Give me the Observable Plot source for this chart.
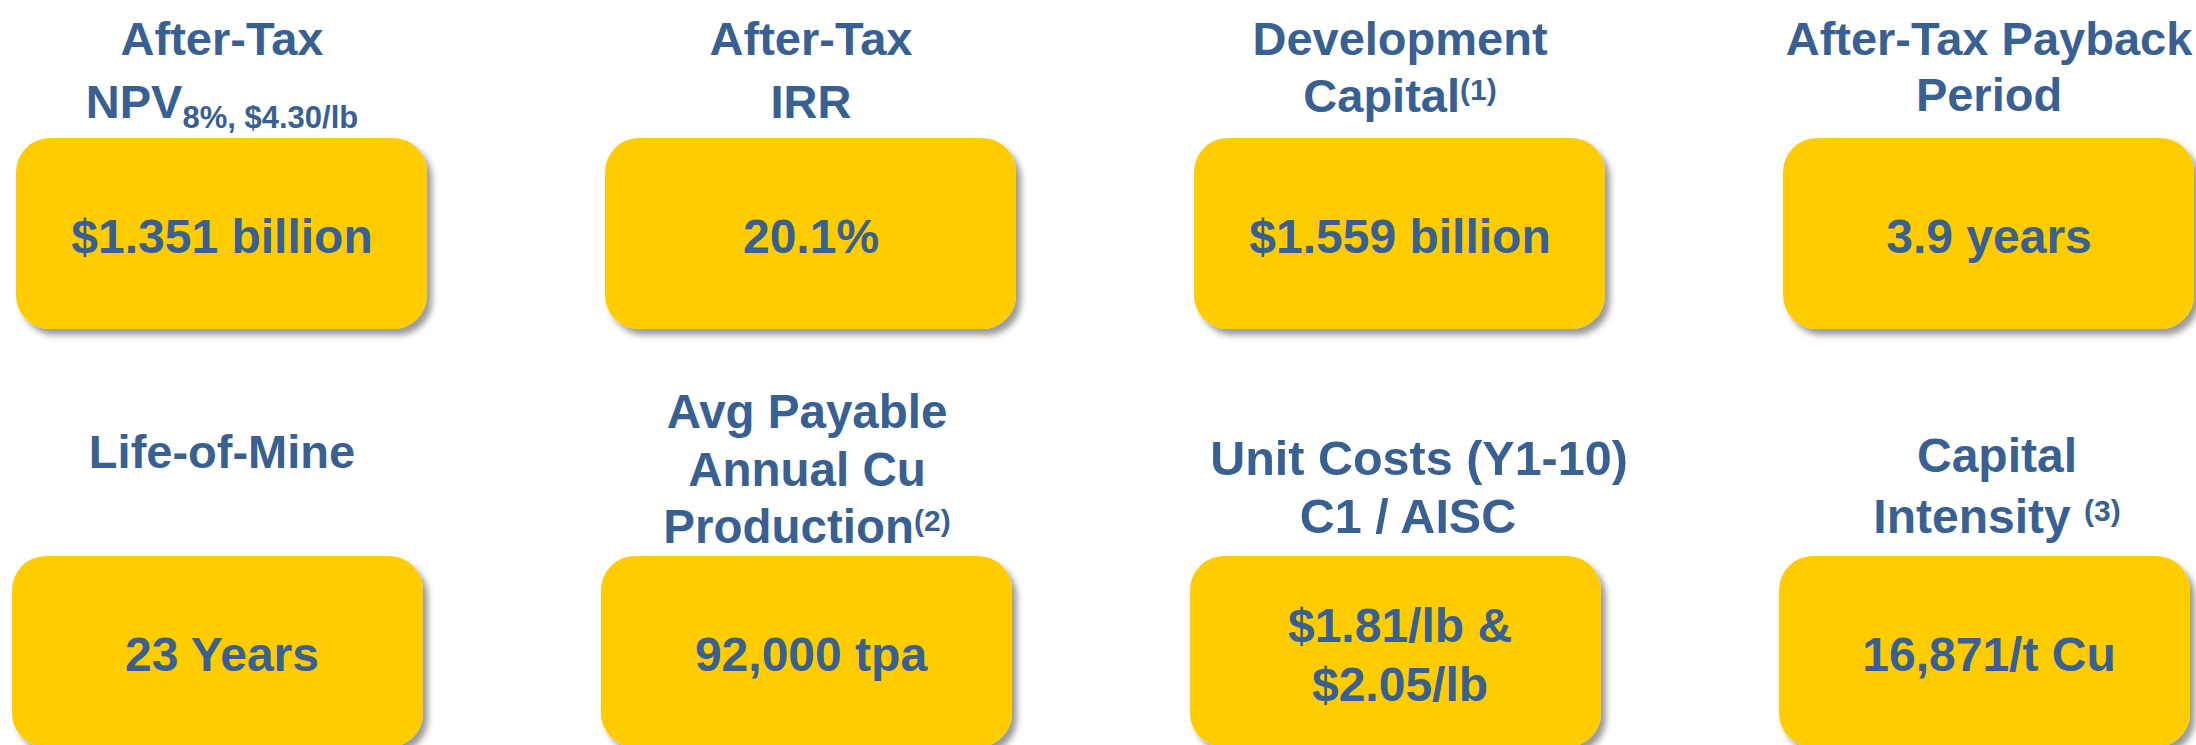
<!DOCTYPE html>
<html>
<head>
<meta charset="utf-8">
<script src="https://cdn.jsdelivr.net/npm/d3@7"></script>
<script src="https://cdn.jsdelivr.net/npm/@observablehq/plot@0.6"></script>
<style>
  html, body { margin: 0; padding: 0; background: #ffffff; }
  #chart svg { display: block; }
</style>
</head>
<body>
<div id="chart"></div>
<script>
// ---------- data ----------
const metrics = [
  "After-Tax NPV", "After-Tax IRR", "Development Capital", "After-Tax Payback Period",
  "Life-of-Mine", "Avg Payable Annual Cu Production", "Unit Costs (Y1-10) C1 / AISC", "Capital Intensity"
];
const titleLines = [
  ["After-Tax", "NPV_{8%, $4.30/lb}"],
  ["After-Tax", "IRR"],
  ["Development", "Capital^{(1)}"],
  ["After-Tax Payback", "Period"],
  ["Life-of-Mine"],
  ["Avg Payable", "Annual Cu", "Production^{(2)}"],
  ["Unit Costs (Y1-10)", "C1 / AISC"],
  ["Capital", "Intensity ^{(3)}"]
];
const valueLines = [
  ["$1.351 billion"], ["20.1%"], ["$1.559 billion"], ["3.9 years"],
  ["23 Years"], ["92,000 tpa"], ["$1.81/lb &", "$2.05/lb"], ["16,871/t Cu"]
];
const columns = [0, 1, 2, 3, 0, 1, 2, 3];
const rows = [0, 0, 0, 0, 1, 1, 1, 1];

// ---------- layout & style ----------
const W = 2196, H = 745;
const cardTop = [138, 556];
const cardH = 191;
const titleBase = [[-84, -21], [-84, -21], [-84, -27], [-84, -28], [-89], [-129, -71, -14], [-82, -24], [-85, -24]];
const titleDx = [[0, 0], [0, 0], [0, 0], [0, 0], [0], [-4, -4, -4], [19, 8], [8, 8]];
const titleSize = [47, 47, 47, 47, 47, 47.5, 48.5, 48];
const valueBase = {1: [114], 2: [85, 144]};
const BLUE = "#386092";
const GOLD = "#FFCC00";
const FONT = "'Liberation Sans', Arial, Helvetica, sans-serif";

const cards = metrics.map((m, i) => ({
  metric: m, col: columns[i], row: rows[i],
  y1: cardTop[rows[i]], y2: cardTop[rows[i]] + cardH
}));

const titleData = metrics.flatMap((m, i) =>
  titleLines[i].map((t, j) => ({
    card: i, col: columns[i], text: t, y: cardTop[rows[i]] + titleBase[i][j],
    dx: titleDx[i][j], size: titleSize[i]
  }))
);
const valueData = metrics.flatMap((m, i) =>
  valueLines[i].map((t, j) => ({col: columns[i], text: t, y: cardTop[rows[i]] + valueBase[valueLines[i].length][j]}))
);

const plot = Plot.plot({
  width: W,
  height: H,
  margin: 0,
  x: {type: "band", domain: [0, 1, 2, 3], range: [15, 2195], paddingInner: 0.303, paddingOuter: 0, axis: null},
  y: {type: "linear", domain: [0, H], range: [0, H], axis: null},
  style: {background: "#ffffff", overflow: "visible"},
  marks: [
    Plot.barY(cards.filter(d => d.row === 0), {x: "col", y1: "y1", y2: "y2", fill: GOLD, rx: 34, ariaLabel: "cards"}),
    Plot.barY(cards.filter(d => d.row === 1), {x: "col", y1: "y1", y2: "y2", fill: GOLD, rx: 34, dx: -4, ariaLabel: "cards"}),
    ...titleData.map(line => Plot.text([line], {
      x: "col", y: "y", text: "text", lineAnchor: "bottom", textAnchor: "middle", dx: line.dx,
      fontSize: line.size, fontWeight: "bold", fontFamily: FONT, fill: BLUE
    })),
    Plot.text(valueData, {
      x: "col", y: "y", text: "text", lineAnchor: "bottom", textAnchor: "middle",
      fontSize: 48, fontWeight: "bold", fontFamily: FONT, fill: BLUE
    })
  ]
});

// drop shadow on cards
const NS = "http://www.w3.org/2000/svg";
const defs = document.createElementNS(NS, "defs");
const filter = document.createElementNS(NS, "filter");
filter.setAttribute("id", "cardShadow");
filter.setAttribute("x", "-10%"); filter.setAttribute("y", "-10%");
filter.setAttribute("width", "125%"); filter.setAttribute("height", "130%");
const fe = document.createElementNS(NS, "feDropShadow");
fe.setAttribute("dx", "5"); fe.setAttribute("dy", "6"); fe.setAttribute("stdDeviation", "3");
fe.setAttribute("flood-color", "#000000"); fe.setAttribute("flood-opacity", "0.4");
filter.appendChild(fe); defs.appendChild(filter);
plot.insertBefore(defs, plot.firstChild);
plot.querySelectorAll("rect").forEach(r => {
  const f = (r.getAttribute("fill") || r.parentNode.getAttribute("fill") || "").toUpperCase();
  if (f === GOLD) r.setAttribute("filter", "url(#cardShadow)");
});

// subscript / superscript markup
plot.querySelectorAll("text").forEach(t => {
  const s = t.textContent;
  const m = s.match(/^(.*?)([_^])\{(.*)\}$/);
  if (m) {
    t.textContent = m[1];
    const ts = document.createElementNS(NS, "tspan");
    const sub = m[2] === "_";
    ts.setAttribute("font-size", sub ? 31 : 30);
    ts.setAttribute("dy", sub ? 10 : -12);
    ts.textContent = m[3];
    t.appendChild(ts);
  }
});

document.getElementById("chart").appendChild(plot);
</script>
</body>
</html>
